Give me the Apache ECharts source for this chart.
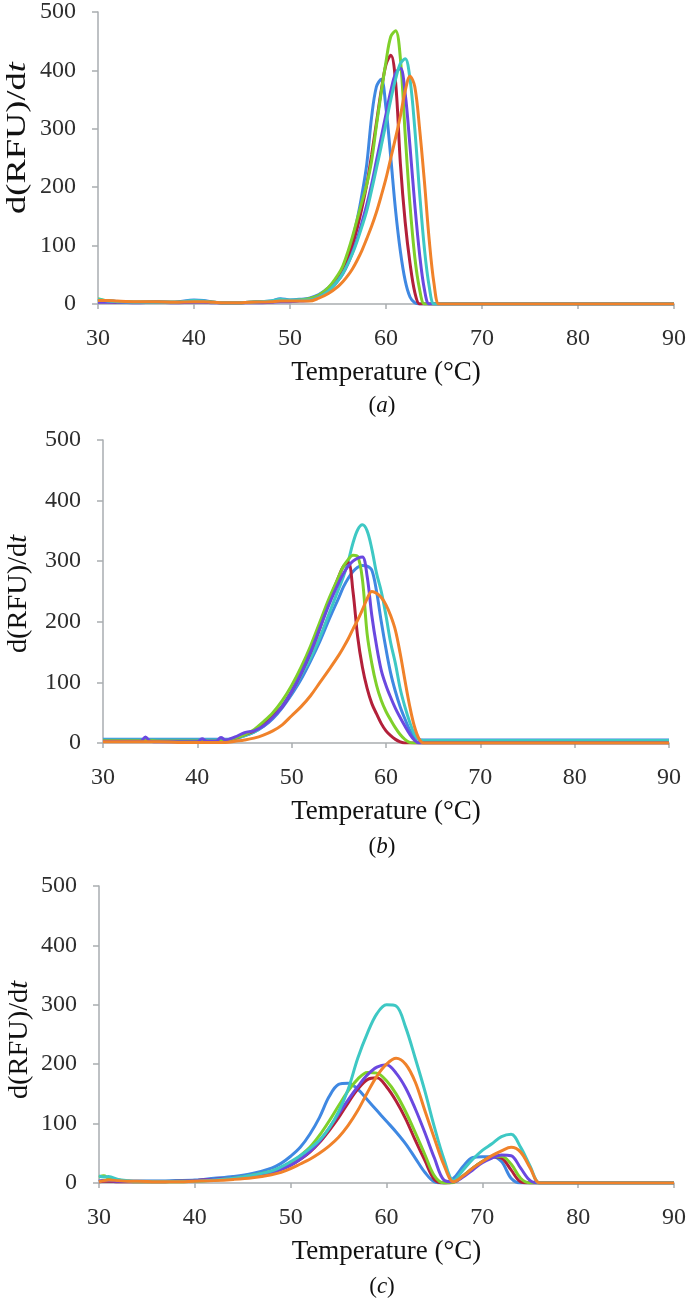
<!DOCTYPE html>
<html>
<head>
<meta charset="utf-8">
<script src="https://cdn.jsdelivr.net/npm/echarts@6/dist/echarts.min.js"></script>
<style>
html,body{margin:0;padding:0;background:#fff;}
#chart{width:689px;height:1301px;}
</style>
</head>
<body>
<div id="chart"></div>
<script>
// ---------- tick labels ----------
const xTicks = [30, 40, 50, 60, 70, 80, 90];
const yTicks = [0, 100, 200, 300, 400, 500];
const seriesNames = ['blue', 'red', 'green', 'purple', 'cyan', 'orange'];
const panelCaptions = ['a', 'b', 'c'];

// ---------- panel (a) ----------
const tempsA = [30,31,32,34,36,38,40,41,42,44,46,48,49,50,51,52,53,54,55,55.5,56,56.5,57,57.5,58,58.5,59,59.5,60,60.5,61,61.5,62,62.5,63,63.5,64,64.5,65,65.5,66,70,80,90];
const aBlue   = [5,6,4,3,4,3,7,6,3,2,3,5,9,7,8,10,16,28,46,60,82,110,145,188,240,320,372,385,335,250,160,90,40,12,2,0,0,0,0,0,0,0,0,0];
const aRed    = [4,4,3,3,3,3,4,4,3,2,3,4,5,5,6,8,14,25,45,58,75,100,130,165,205,255,310,365,410,426,380,240,140,70,20,0,0,0,0,0,0,0,0,0];
const aGreen  = [9,5,4,3,3,3,4,4,3,2,3,4,6,6,7,9,15,28,50,65,88,115,145,175,205,245,305,362,415,458,468,420,290,170,80,25,0,0,0,0,0,0,0,0];
const aPurple = [3,3,3,2,3,2,3,3,2,2,2,3,4,4,5,6,12,22,40,52,68,88,112,140,170,205,245,285,325,365,395,404,360,270,170,85,25,0,0,0,0,0,0,0];
const aCyan   = [8,5,4,3,3,3,6,5,3,2,3,5,8,7,7,7,12,22,40,52,68,86,108,133,160,195,232,270,310,350,385,412,420,385,300,190,95,30,0,0,0,0,0,0];
const aOrange = [6,6,5,4,4,3,4,4,3,2,3,4,5,5,5,5,10,18,30,38,48,60,75,92,112,133,157,185,215,250,285,322,365,390,372,300,210,110,35,0,0,0,0,0];

// ---------- panel (b) ----------
const tempsB = [30,32,34,34.5,35,36,38,40,40.5,41,42,42.5,43,44,45,46,47,48,49,50,51,52,53,54,55,55.5,56,56.5,57,57.5,58,58.5,59,59.5,60,60.5,61,61.5,62,62.5,63,63.5,64,65,70,80,90];
const bBlue   = [6,6,6,6,6,6,6,6,6,6,6,6,6,7,12,18,27,40,58,80,105,135,168,205,240,258,272,283,290,293,292,285,250,200,155,115,85,60,40,22,10,6,5,5,5,5,5];
const bRed    = [3,3,3,3,3,3,3,3,3,3,3,3,3,8,14,20,30,45,60,85,115,150,190,235,275,292,298,250,175,125,90,65,48,32,20,12,6,2,0,0,0,0,0,0,0,0,0];
const bGreen  = [4,4,4,4,4,3,3,3,3,3,3,3,4,8,14,22,35,50,70,95,125,160,200,240,275,292,303,310,308,270,180,131,95,70,52,38,25,14,6,1,0,0,0,0,0,0,0];
const bPurple = [3,3,3,10,3,2,2,2,7,3,3,9,5,10,17,20,28,42,60,85,115,150,190,230,265,280,292,300,305,307,275,210,160,120,95,75,57,42,28,15,5,0,0,0,0,0,0];
const bCyan   = [5,5,5,5,5,5,5,5,5,5,5,5,5,8,12,18,28,42,62,85,112,140,175,215,255,275,300,330,352,360,350,320,280,250,210,165,131,90,60,35,15,5,4,4,4,4,4];
const bOrange = [2,2,2,2,2,2,1,1,1,1,1,1,1,3,5,8,13,20,30,45,60,78,100,122,145,158,172,188,203,220,238,250,247,240,228,210,186,148,104,62,28,7,0,0,0,0,0];

// ---------- panel (c) ----------
const tempsC = [30,30.5,31,32,33,34,36,38,40,42,44,46,48,49,50,51,52,53,54,55,56,57,58,59,60,61,62,63,64,65,66,67,68,69,70,71,72,73,74,75,76,78,80,90];
const cBlue   = [3,4,3,3,3,3,3,4,5,8,11,16,25,33,45,60,82,110,145,166,168,158,140,122,104,86,66,42,18,2,0,8,28,43,44,44,36,8,0,0,0,0,0,0];
const cRed    = [2,3,3,2,2,2,2,3,4,6,8,12,18,23,30,40,52,68,88,110,135,158,174,177,162,138,108,72,38,6,0,2,12,25,36,44,42,22,2,0,0,0,0,0];
const cGreen  = [10,12,8,5,3,2,2,2,3,5,8,13,20,26,34,46,60,80,104,130,155,175,186,185,172,150,120,85,48,12,0,1,12,25,36,44,45,32,8,0,0,0,0,0];
const cPurple = [3,4,4,3,3,3,3,3,4,6,8,12,18,23,30,40,53,70,92,116,140,162,182,195,199,185,160,125,85,42,5,2,10,22,34,42,47,46,25,4,0,0,0,0];
const cCyan   = [12,10,11,6,4,3,3,3,3,5,8,13,20,27,36,46,58,72,92,120,158,210,252,285,300,298,262,210,155,94,40,4,22,40,55,66,78,82,60,28,0,0,0,0];
const cOrange = [2,4,5,4,3,3,2,2,3,4,6,9,14,18,24,32,40,50,62,77,97,122,152,180,200,210,200,170,122,75,30,2,12,25,36,46,54,60,52,25,0,0,0,0];

// ---------- build ----------
const colors = {
  blue: '#3f88e2', red: '#b3203a', green: '#7fd02a',
  purple: '#6a48e0', cyan: '#3ec8c4', orange: '#f0822a'
};
const panels = [
  { temps: tempsA, vals: { blue: aBlue, red: aRed, green: aGreen, purple: aPurple, cyan: aCyan, orange: aOrange },
    grid: { left: 98, top: 8, width: 577, height: 296 }, order: ['blue','red','green','purple','cyan','orange'],
    yName: { x: 18, y: 138, stretch: 1.35 } },
  { temps: tempsB, vals: { blue: bBlue, red: bRed, green: bGreen, purple: bPurple, cyan: bCyan, orange: bOrange },
    grid: { left: 103, top: 440, width: 566, height: 303 }, order: ['blue','cyan','red','green','purple','orange'],
    yName: { x: 19, y: 594, stretch: 1.05 } },
  { temps: tempsC, vals: { blue: cBlue, red: cRed, green: cGreen, purple: cPurple, cyan: cCyan, orange: cOrange },
    grid: { left: 99, top: 886, width: 577, height: 297 }, order: ['blue','red','green','purple','cyan','orange'],
    yName: { x: 20, y: 1040, stretch: 1.05 } }
];

const serif = '"Liberation Serif", "Times New Roman", serif';
const axisGray = '#a9adb0';

const grids = [], xAxes = [], yAxes = [], series = [], titles = [], graphics = [];
panels.forEach((p, i) => {
  grids.push(Object.assign({ containLabel: false }, p.grid));
  xAxes.push({
    type: 'value', gridIndex: i, min: xTicks[0], max: xTicks[xTicks.length - 1], interval: 10,
    name: 'Temperature (°C)', nameLocation: 'middle', nameGap: 55,
    nameTextStyle: { fontFamily: serif, fontSize: 27, color: '#111' },
    axisLine: { show: true, lineStyle: { color: axisGray, width: 1.5 } },
    axisTick: { show: true, inside: false, length: 5, lineStyle: { color: axisGray, width: 1.5 } },
    axisLabel: { fontFamily: serif, fontSize: 24, color: '#2e2e2e', margin: 23 },
    splitLine: { show: false }
  });
  yAxes.push({
    type: 'value', gridIndex: i, min: yTicks[0], max: yTicks[yTicks.length - 1], interval: 100,
    axisLine: { show: true, lineStyle: { color: axisGray, width: 1.5 } },
    axisTick: { show: true, inside: false, length: 6, lineStyle: { color: axisGray, width: 1.5 } },
    axisLabel: { fontFamily: serif, fontSize: 24, color: '#2e2e2e', margin: 22 },
    splitLine: { show: false }
  });
  p.order.forEach(k => {
    series.push({
      type: 'line', name: k, xAxisIndex: i, yAxisIndex: i,
      data: p.temps.map((t, j) => [t, p.vals[k][j]]),
      smooth: 0.35, showSymbol: false, symbol: 'none',
      lineStyle: { color: colors[k], width: 3 }, itemStyle: { color: colors[k] }
    });
  });
  // rotated y-axis title
  graphics.push({
    type: 'text', x: p.yName.x, y: p.yName.y, rotation: Math.PI / 2,
    scaleX: p.yName.stretch, scaleY: 1,
    style: {
      text: '{n|d(RFU)/d}{i|t}', align: 'center', verticalAlign: 'middle',
      rich: {
        n: { fontFamily: serif, fontSize: 27, fill: '#111', color: '#111' },
        i: { fontFamily: serif, fontSize: 27, fill: '#111', color: '#111', fontStyle: 'italic' }
      }
    }
  });
  const capTop = [394, 835, 1275][i];
  titles.push({
    text: '{n|(}{i|' + panelCaptions[i] + '}{n|)}',
    left: 382, top: capTop, textAlign: 'center', padding: 0,
    textStyle: { fontWeight: 'normal', rich: {
      n: { fontFamily: serif, fontSize: 23, color: '#111', fontWeight: 'normal' },
      i: { fontFamily: serif, fontSize: 23, color: '#111', fontStyle: 'italic', fontWeight: 'normal' }
    } }
  });
});

const chart = echarts.init(document.getElementById('chart'), null, { renderer: 'canvas' });
chart.setOption({
  animation: false,
  backgroundColor: '#fff',
  title: titles,
  grid: grids,
  xAxis: xAxes,
  yAxis: yAxes,
  graphic: graphics,
  series: series
});
</script>
</body>
</html>
